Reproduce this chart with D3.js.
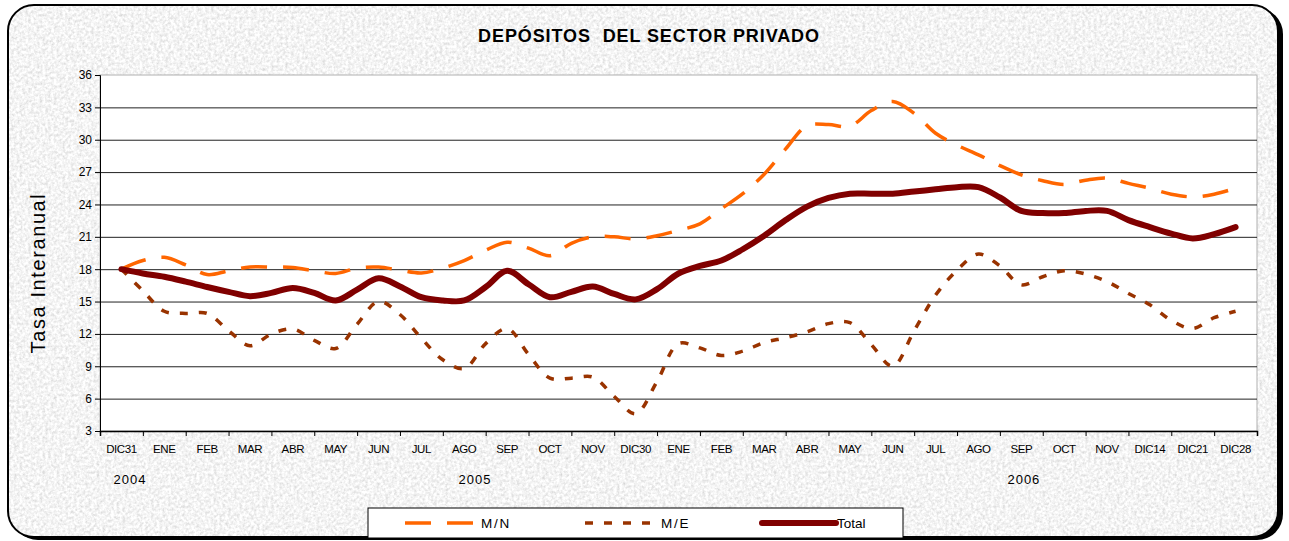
<!DOCTYPE html>
<html lang="es">
<head>
  <meta charset="UTF-8">
  <title>Depósitos del sector privado</title>
  <style>
    body { margin: 0; background: #fff; }
    svg text { font-family: "Liberation Sans", Arial, sans-serif; }
  </style>
</head>
<body>
  <svg id="svg" width="1289" height="541"></svg>

  <script src="https://d3js.org/d3.v7.min.js"></script>
  <script>
    // x axis categories (one per month, weekly at the end)
    const categories = ['DIC31', 'ENE', 'FEB', 'MAR', 'ABR', 'MAY', 'JUN', 'JUL', 'AGO', 'SEP', 'OCT', 'NOV', 'DIC30',
      'ENE', 'FEB', 'MAR', 'ABR', 'MAY', 'JUN', 'JUL', 'AGO', 'SEP', 'OCT', 'NOV', 'DIC14', 'DIC21', 'DIC28']
    const years = [{ label: '2004', at: 0.2 }, { label: '2005', at: 8.25 }, { label: '2006', at: 21.06 }]
    const yTicks = [3, 6, 9, 12, 15, 18, 21, 24, 27, 30, 33, 36]

    // observation positions, in category units (half a month apart)
    const obs = d3.range(0, 26.5, 0.5)

    const mn = [18.0, 18.8, 19.1, 18.4, 17.5, 17.85, 18.2, 18.2, 18.15, 17.85, 17.6, 18.1, 18.2, 17.9,
      17.65, 18.1, 18.8, 19.75, 20.5, 19.95, 19.25, 20.4, 21.0, 21.0, 20.8, 21.1, 21.6, 22.2,
      23.6, 25.0, 26.8, 29.15, 31.3, 31.4, 31.25, 32.7, 33.55, 32.45, 30.6, 29.5, 28.6, 27.6,
      26.75, 26.2, 25.85, 26.25, 26.45, 25.95, 25.5, 24.95, 24.7, 24.95, 25.5]

    const me = [18.0, 16.0, 14.1, 13.9, 13.9, 12.3, 10.9, 12.0, 12.45, 11.4, 10.65, 12.9, 15.0, 13.8,
      11.6, 9.6, 8.8, 11.1, 12.5, 10.1, 7.9, 7.9, 8.0, 6.2, 4.6, 7.6, 11.1, 10.7,
      10.0, 10.4, 11.2, 11.65, 12.2, 12.95, 13.05, 11.0, 9.0, 12.3, 15.6, 17.9, 19.4, 18.3,
      16.55, 17.3, 17.85, 17.55, 16.85, 15.75, 14.7, 13.25, 12.5, 13.5, 14.1]

    const total = [18.0, 17.6, 17.3, 16.85, 16.35, 15.9, 15.5, 15.8, 16.25, 15.8, 15.1, 16.1, 17.15, 16.4,
      15.4, 15.1, 15.1, 16.35, 17.85, 16.6, 15.4, 15.9, 16.4, 15.7, 15.2, 16.15, 17.6, 18.3,
      18.8, 19.85, 21.1, 22.55, 23.8, 24.6, 25.0, 25.0, 25.0, 25.2, 25.4, 25.6, 25.6, 24.65,
      23.4, 23.2, 23.2, 23.4, 23.4, 22.55, 21.9, 21.3, 20.85, 21.25, 21.9]

    const series = [
      { name: 'M/N', values: mn, color: '#ff6600', width: 3.5, dash: '26,16' },
      { name: 'M/E', values: me, color: '#993300', width: 3.5, dash: '8,11' },
      { name: 'Total', values: total, color: '#800000', width: 6, dash: null }
    ]

    const svg = d3.select('#svg')
    const plot = { left: 100, right: 1257, top: 75, bottom: 431 }

    // ---- frame with granite texture ----
    const defs = svg.append('defs')
    const filter = defs.append('filter')
      .attr('id', 'granite')
      .attr('filterUnits', 'userSpaceOnUse')
      .attr('x', 0).attr('y', 0).attr('width', 1289).attr('height', 541)
    filter.append('feTurbulence')
      .attr('type', 'fractalNoise')
      .attr('baseFrequency', 0.35)
      .attr('numOctaves', 3)
      .attr('seed', 4)
    filter.append('feColorMatrix')
      .attr('type', 'matrix')
      .attr('values', '0.55 0 0 0 0.63  0.55 0 0 0 0.63  0.55 0 0 0 0.63  0 0 0 0 1')
    defs.append('clipPath').attr('id', 'frameClip')
      .append('rect')
      .attr('x', 8).attr('y', 5).attr('width', 1270).attr('height', 532).attr('rx', 26)

    svg.append('rect') // shadow
      .attr('x', 12).attr('y', 8).attr('width', 1271).attr('height', 532).attr('rx', 26)
      .attr('fill', '#000')
    svg.append('rect')
      .attr('x', 0).attr('y', 0).attr('width', 1289).attr('height', 541)
      .attr('filter', 'url(#granite)')
      .attr('clip-path', 'url(#frameClip)')
    svg.append('rect')
      .attr('x', 8).attr('y', 5).attr('width', 1270).attr('height', 532).attr('rx', 26)
      .attr('fill', 'none')
      .attr('stroke', '#000')
      .attr('stroke-width', 2)

    // ---- scales ----
    const x = d3.scaleLinear().domain([-0.5, categories.length - 0.5]).range([plot.left, plot.right])
    const xBand = d3.scaleBand().domain(d3.range(categories.length)).range([plot.left, plot.right])
    const y = d3.scaleLinear().domain([3, 36]).range([plot.bottom, plot.top])

    svg.append('rect')
      .attr('x', plot.left).attr('y', plot.top)
      .attr('width', plot.right - plot.left).attr('height', plot.bottom - plot.top)
      .attr('fill', '#fff')
      .attr('stroke', '#b0b0b0')
      .attr('stroke-width', 1)

    // gridlines
    svg.append('g')
      .attr('transform', `translate(${plot.left},0)`)
      .call(d3.axisLeft(y).tickValues(yTicks.filter(d => d > 3 && d < 36)).tickSize(-(plot.right - plot.left)).tickFormat(''))
      .call(g => g.select('.domain').remove())
      .selectAll('line')
      .attr('stroke', '#222')
      .attr('stroke-width', 1)

    // y axis
    svg.append('g')
      .attr('transform', `translate(${plot.left},0)`)
      .call(d3.axisLeft(y).tickValues(yTicks).tickSize(5).tickPadding(3))
      .call(g => g.select('.domain').attr('stroke', '#000'))
      .call(g => g.selectAll('text').style('font-size', '12px').attr('fill', '#000'))

    // x axis ticks at category boundaries
    svg.append('g')
      .attr('transform', `translate(0,${plot.bottom})`)
      .call(d3.axisBottom(x).tickValues(d3.range(-0.5, categories.length, 1)).tickSize(5).tickFormat(''))
      .call(g => g.select('.domain').attr('stroke', '#000').attr('stroke-width', 1.5))

    // x labels centred in categories
    svg.append('g')
      .attr('transform', `translate(0,${plot.bottom + 11})`)
      .call(d3.axisBottom(xBand).tickSize(0).tickFormat(i => categories[i]))
      .call(g => g.select('.domain').remove())
      .call(g => g.selectAll('text')
        .style('font-size', '11.5px')
        .style('letter-spacing', '-0.4px')
        .attr('fill', '#000'))

    svg.append('g').selectAll('text')
      .data(years)
      .enter()
      .append('text')
      .attr('x', d => x(d.at))
      .attr('y', 484)
      .attr('text-anchor', 'middle')
      .style('font-size', '13px')
      .style('letter-spacing', '1px')
      .text(d => d.label)

    // ---- lines ----
    const line = d3.line()
      .x((d, i) => x(obs[i]))
      .y(d => y(d))
      .curve(d3.curveCatmullRom.alpha(0.5))

    svg.append('g').selectAll('path')
      .data(series)
      .enter()
      .append('path')
      .attr('d', d => line(d.values))
      .attr('fill', 'none')
      .attr('stroke', d => d.color)
      .attr('stroke-width', d => d.width)
      .attr('stroke-dasharray', d => d.dash)
      .attr('stroke-linecap', d => d.dash ? 'butt' : 'round')
      .attr('stroke-linejoin', 'round')

    // ---- titles ----
    svg.append('text')
      .attr('x', 649).attr('y', 42)
      .attr('text-anchor', 'middle')
      .attr('xml:space', 'preserve')
      .style('font-size', '18px')
      .style('font-weight', 'bold')
      .style('letter-spacing', '0.9px')
      .text('DEPÓSITOS  DEL SECTOR PRIVADO')

    svg.append('text')
      .attr('transform', 'translate(45,273) rotate(-90)')
      .attr('text-anchor', 'middle')
      .style('font-size', '20px')
      .style('letter-spacing', '1.6px')
      .text('Tasa Interanual')

    // ---- legend ----
    const legend = svg.append('g')
    legend.append('rect')
      .attr('x', 368).attr('y', 508).attr('width', 535).attr('height', 30)
      .attr('fill', '#fff')
      .attr('stroke', '#000')
      .attr('stroke-width', 1)
    const legendX = [405, 585, 762]
    const item = legend.selectAll('g.item')
      .data(series)
      .enter()
      .append('g')
      .attr('class', 'item')
      .attr('transform', (d, i) => `translate(${legendX[i]},523)`)
    item.append('line')
      .attr('x1', 0).attr('x2', d => d.dash ? 72 : 74)
      .attr('y1', 0).attr('y2', 0)
      .attr('stroke', d => d.color)
      .attr('stroke-width', d => d.width)
      .attr('stroke-dasharray', d => d.dash)
      .attr('stroke-linecap', d => d.dash ? 'butt' : 'round')
    item.append('text')
      .attr('x', d => d.dash ? 76 : 75)
      .attr('y', 5)
      .style('font-size', '13.5px')
      .style('letter-spacing', d => d.dash ? '1.8px' : '0px')
      .text(d => d.name)
  </script>
</body>
</html>
